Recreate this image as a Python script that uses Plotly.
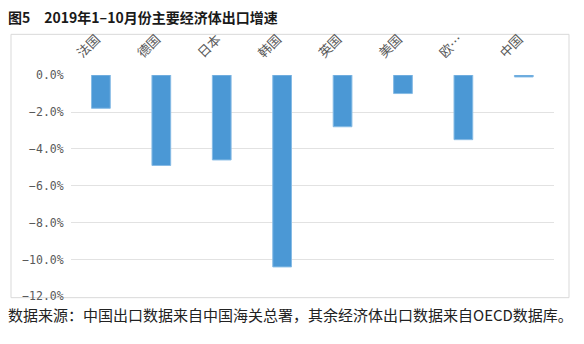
import plotly.graph_objects as go

# Export growth, Jan–Oct 2019 (%)
economies = ["法国", "德国", "日本", "韩国", "英国", "美国", "欧…", "中国"]
growth = [-1.8, -4.9, -4.6, -10.4, -2.8, -1.0, -3.5, -0.1]
y_ticks = [0, -2, -4, -6, -8, -10, -12]
y_tick_text = [f"{v:.1f}%".replace("-", "−") for v in y_ticks]

W, H = 584, 344

fig = go.Figure(
    go.Bar(
        x=economies,
        y=growth,
        width=0.31,
        marker=dict(color="#4b98d5", line=dict(color="#86bbe5", width=1)),
    )
)

fig.update_layout(
    width=W,
    height=H,
    margin=dict(l=0, r=0, t=0, b=0),
    paper_bgcolor="white",
    plot_bgcolor="white",
    showlegend=False,
    font=dict(family="Noto Sans CJK SC", color="#595959"),
    xaxis=dict(
        domain=[70.7 / W, 554 / W],
        side="top",
        tickangle=-45,
        tickfont=dict(size=13, color="#595959", family="Noto Sans CJK SC"),
        showline=False,
        showgrid=False,
        ticks="",
        ticklabelshift=-23,
        ticklabelstandoff=11,
    ),
    yaxis=dict(
        domain=[1 - 301.7 / H, 1 - 71 / H],
        range=[-12, 0],
        tickvals=y_ticks,
        ticktext=y_tick_text,
        tickfont=dict(size=11.5, color="#595959", family="DejaVu Sans Mono"),
        showgrid=True,
        gridcolor="#e2e2e2",
        gridwidth=1.2,
        zeroline=False,
        showline=False,
        ticks="",
        ticklabelstandoff=6,
    ),
    shapes=[
        dict(
            type="rect",
            xref="paper",
            yref="paper",
            x0=11 / W,
            x1=569 / W,
            y0=1 - 303 / H,
            y1=1 - 28.5 / H,
            line=dict(color="#d9d9d9", width=1),
            fillcolor="rgba(0,0,0,0)",
            layer="below",
        )
    ],
    annotations=[
        dict(
            text="图5　2019年1–10月份主要经济体出口增速",
            xref="paper",
            yref="paper",
            x=6 / W,
            y=1 - 10 / H,
            xanchor="left",
            yanchor="middle",
            showarrow=False,
            font=dict(size=14, color="#1a1a1a", family="Noto Sans CJK SC", weight="bold"),
        ),
        dict(
            text="数据来源：中国出口数据来自中国海关总署，其余经济体出口数据来自OECD数据库。",
            xref="paper",
            yref="paper",
            x=6 / W,
            y=1 - 321 / H,
            xanchor="left",
            yanchor="middle",
            showarrow=False,
            font=dict(size=15, color="#222222", family="Noto Sans CJK SC"),
        ),
    ],
)

fig.write_html("out.html")
